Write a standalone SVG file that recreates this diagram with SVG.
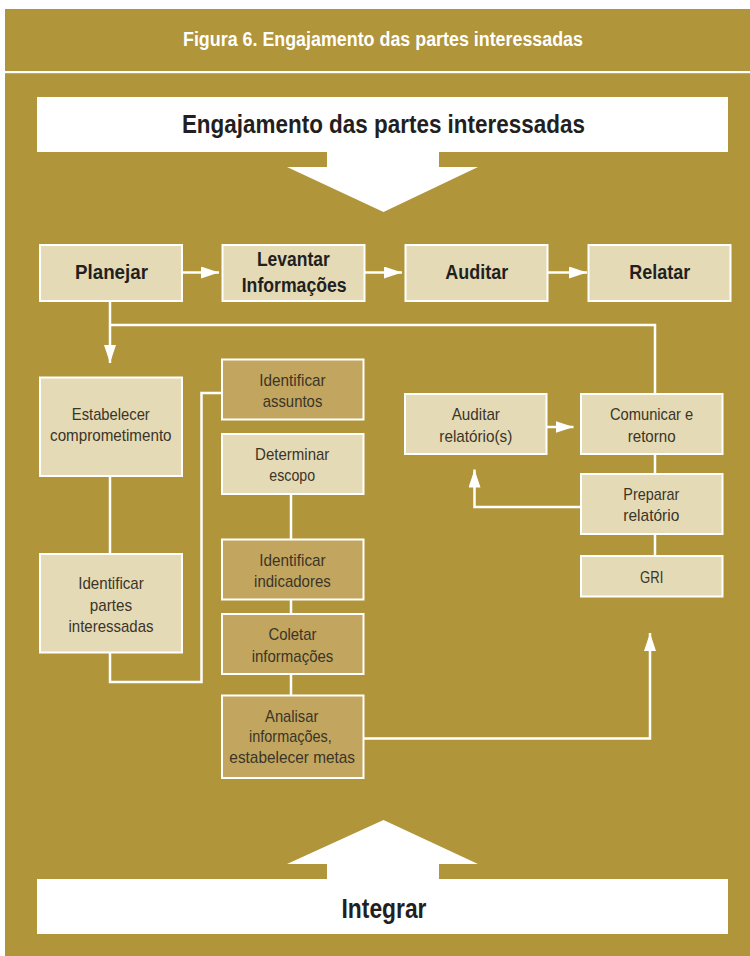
<svg xmlns="http://www.w3.org/2000/svg" width="750" height="956" viewBox="0 0 750 956">
<defs>
<style>
.bg{fill:#B0953A}
.lt{fill:#E5DAB6;stroke:#FFFFFF;stroke-width:2}
.dk{fill:#C2A65F;stroke:#FFFFFF;stroke-width:2}
.wb{fill:#FFFFFF}
.cn{fill:none;stroke:#FFFFFF;stroke-width:2.5}
.hd{font-family:"Liberation Sans",Arial,sans-serif;font-weight:bold;fill:#231F20;text-anchor:middle}
.tx{font-family:"Liberation Sans",Arial,sans-serif;font-size:17px;fill:#3B3527;text-anchor:middle}
</style>
<marker id="ah" markerUnits="userSpaceOnUse" markerWidth="18" markerHeight="12" refX="18" refY="6" orient="auto" viewBox="0 0 18 12">
<path d="M0,0 L18,6 L0,12 Z" fill="#FFFFFF"/>
</marker>
</defs>
<rect x="0" y="0" width="750" height="956" fill="#FFFFFF"/>
<rect class="bg" x="5" y="9" width="745" height="947"/>
<rect x="5" y="71" width="745" height="2.2" fill="#FFFFFF"/>
<text x="383" y="46" font-family="Liberation Sans,Arial,sans-serif" font-weight="bold" font-size="20" fill="#FFFFFF" text-anchor="middle" textLength="400" lengthAdjust="spacingAndGlyphs">Figura 6. Engajamento das partes interessadas</text>

<g id="top-banner">
<rect class="wb" x="37" y="97" width="691" height="55"/>
<path class="wb" d="M327,151 H439 V167 H478 L383.5,212 L287,167 H327 Z"/>
<text class="hd" x="383.4" y="133" font-size="26.5" textLength="403" lengthAdjust="spacingAndGlyphs">Engajamento das partes interessadas</text>
</g>

<g id="bottom-banner">
<path class="wb" d="M383.5,820 L478,864 H439 V880 H327 V864 H287 Z"/>
<rect class="wb" x="37" y="879" width="691" height="55"/>
<text class="hd" x="384" y="918" font-size="27" textLength="85" lengthAdjust="spacingAndGlyphs">Integrar</text>
</g>

<g id="connectors">
<path class="cn" d="M182,272.5 H219" marker-end="url(#ah)"/>
<path class="cn" d="M364.5,272.5 H402" marker-end="url(#ah)"/>
<path class="cn" d="M547.5,272.5 H587" marker-end="url(#ah)"/>
<path class="cn" d="M110,301 V363" marker-end="url(#ah)"/>
<path class="cn" d="M110,325 H655 V394"/>
<path class="cn" d="M110,476 V554"/>
<path class="cn" d="M110,652.5 V682 H201.5 V393 H222"/>
<path class="cn" d="M291,494 V539.5"/>
<path class="cn" d="M291,599.5 V614"/>
<path class="cn" d="M291,674 V695.5"/>
<path class="cn" d="M363.5,738.5 H650 V633" marker-end="url(#ah)"/>
<path class="cn" d="M546.5,427 H573.5" marker-end="url(#ah)"/>
<path class="cn" d="M655,454 V474"/>
<path class="cn" d="M655,534 V556"/>
<path class="cn" d="M581,507 H474.5 V469.5" marker-end="url(#ah)"/>
</g>

<g id="planejar">
<rect class="lt" x="40" y="245" width="142" height="56"/>
<text class="hd" x="111.5" y="279" font-size="19.5" textLength="73" lengthAdjust="spacingAndGlyphs">Planejar</text>
</g>
<g id="levantar">
<rect class="lt" x="222.5" y="245" width="142" height="56"/>
<text class="hd" x="293.4" y="266" font-size="19.5" textLength="73" lengthAdjust="spacingAndGlyphs">Levantar</text>
<text class="hd" x="294.2" y="291.5" font-size="19.5" textLength="105" lengthAdjust="spacingAndGlyphs">Informações</text>
</g>
<g id="auditar">
<rect class="lt" x="405.5" y="245" width="142" height="56"/>
<text class="hd" x="476.7" y="279" font-size="19.5" textLength="63" lengthAdjust="spacingAndGlyphs">Auditar</text>
</g>
<g id="relatar">
<rect class="lt" x="588.5" y="245" width="142" height="56"/>
<text class="hd" x="659.7" y="279" font-size="19.5" textLength="61" lengthAdjust="spacingAndGlyphs">Relatar</text>
</g>

<g id="estabelecer">
<rect class="lt" x="40" y="377.5" width="142" height="98.5"/>
<text class="tx" x="110.8" y="420" textLength="78" lengthAdjust="spacingAndGlyphs">Estabelecer</text>
<text class="tx" x="110.8" y="441" textLength="121.5" lengthAdjust="spacingAndGlyphs">comprometimento</text>
</g>
<g id="identificar-partes">
<rect class="lt" x="40" y="554" width="142" height="98.5"/>
<text class="tx" x="111" y="589.3" textLength="65.5" lengthAdjust="spacingAndGlyphs">Identificar</text>
<text class="tx" x="111" y="610.5" textLength="42.3" lengthAdjust="spacingAndGlyphs">partes</text>
<text class="tx" x="111" y="631.7" textLength="85" lengthAdjust="spacingAndGlyphs">interessadas</text>
</g>

<g id="identificar-assuntos">
<rect class="dk" x="222" y="359.5" width="141.5" height="60"/>
<text class="tx" x="292.5" y="386" textLength="66.3" lengthAdjust="spacingAndGlyphs">Identificar</text>
<text class="tx" x="292.5" y="406.7" textLength="59.7" lengthAdjust="spacingAndGlyphs">assuntos</text>
</g>
<g id="determinar-escopo">
<rect class="lt" x="222" y="434" width="141.5" height="60"/>
<text class="tx" x="292.2" y="460" textLength="74.3" lengthAdjust="spacingAndGlyphs">Determinar</text>
<text class="tx" x="292.2" y="480.7" textLength="45.7" lengthAdjust="spacingAndGlyphs">escopo</text>
</g>
<g id="identificar-indicadores">
<rect class="dk" x="222" y="539.5" width="141.5" height="60"/>
<text class="tx" x="292.5" y="566" textLength="66.3" lengthAdjust="spacingAndGlyphs">Identificar</text>
<text class="tx" x="292.4" y="586.7" textLength="76.7" lengthAdjust="spacingAndGlyphs">indicadores</text>
</g>
<g id="coletar-informacoes">
<rect class="dk" x="222" y="614" width="141.5" height="60"/>
<text class="tx" x="292.5" y="640" textLength="48" lengthAdjust="spacingAndGlyphs">Coletar</text>
<text class="tx" x="292.5" y="661.7" textLength="81.7" lengthAdjust="spacingAndGlyphs">informações</text>
</g>
<g id="analisar-informacoes">
<rect class="dk" x="222" y="695.5" width="141.5" height="82.5"/>
<text class="tx" x="291.7" y="721.7" textLength="53.3" lengthAdjust="spacingAndGlyphs">Analisar</text>
<text class="tx" x="290.4" y="742" textLength="82.7" lengthAdjust="spacingAndGlyphs">informações,</text>
<text class="tx" x="292.2" y="763.3" textLength="125.7" lengthAdjust="spacingAndGlyphs">estabelecer metas</text>
</g>

<g id="auditar-relatorios">
<rect class="lt" x="405" y="394" width="141.5" height="60"/>
<text class="tx" x="475.8" y="420" textLength="48.3" lengthAdjust="spacingAndGlyphs">Auditar</text>
<text class="tx" x="475.8" y="441.7" textLength="73" lengthAdjust="spacingAndGlyphs">relatório(s)</text>
</g>
<g id="comunicar-retorno">
<rect class="lt" x="581" y="394" width="141.5" height="60"/>
<text class="tx" x="651.6" y="420" textLength="83.3" lengthAdjust="spacingAndGlyphs">Comunicar e</text>
<text class="tx" x="651.7" y="441.7" textLength="48" lengthAdjust="spacingAndGlyphs">retorno</text>
</g>
<g id="preparar-relatorio">
<rect class="lt" x="581" y="474" width="141.5" height="60"/>
<text class="tx" x="651.3" y="500" textLength="56" lengthAdjust="spacingAndGlyphs">Preparar</text>
<text class="tx" x="651.3" y="521" textLength="56" lengthAdjust="spacingAndGlyphs">relatório</text>
</g>
<g id="gri">
<rect class="lt" x="581" y="556" width="141.5" height="40.5"/>
<text class="tx" x="651.7" y="583.3" textLength="23.3" lengthAdjust="spacingAndGlyphs">GRI</text>
</g>
</svg>
